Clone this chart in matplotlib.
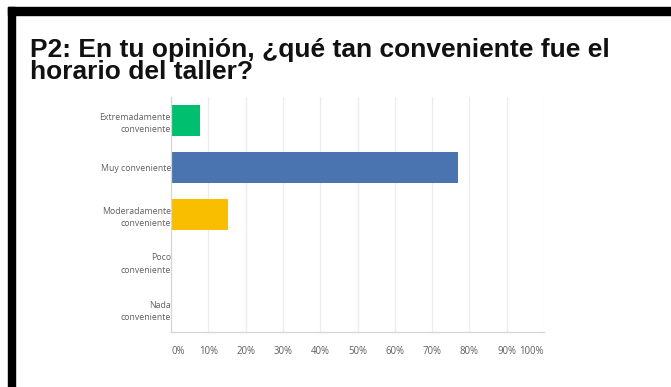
import matplotlib.pyplot as plt
import numpy as np

# survey answers, 13 respondents
categories = ["Extremadamente\nconveniente", "Muy conveniente", "Moderadamente\nconveniente",
              "Poco\nconveniente", "Nada\nconveniente"]
percent = [7.69, 76.92, 15.38, 0.0, 0.0]
colors = ["#00bf6f", "#4a74b0", "#f9be00", "#999999", "#999999"]
ticks = [0, 10, 20, 30, 40, 50, 60, 70, 80, 90, 100]
title = "P2: En tu opinión, ¿qué tan conveniente fue el\nhorario del taller?"

fig = plt.figure(figsize=(6.71, 3.87), dpi=100)

# black slide frame (top and left edges)
fig.patches.append(plt.Rectangle((8 / 671, 1 - 15 / 387), 1, 8 / 387,
                                 transform=fig.transFigure, color="black", zorder=0))
fig.patches.append(plt.Rectangle((8 / 671, 0), 7 / 671, 1 - 7 / 387,
                                 transform=fig.transFigure, color="black", zorder=0))

fig.text(30 / 671, 1 - 38 / 387, title, ha="left", va="top", fontsize=19,
         fontweight="bold", family="Liberation Sans", linespacing=0.9, color="#111111")

ax = fig.add_axes([171 / 671, 1 - 332 / 387, 373 / 671, 235 / 387])
y = np.arange(len(categories))
ax.barh(y, percent, height=0.66, color=colors, zorder=2)
ax.set_ylim(len(categories) - 0.5, -0.5)
ax.set_xlim(0, 100)
ax.set_xticks(ticks)
ax.set_xticklabels([f"{t}%" for t in ticks])
ax.set_yticks(y)
ax.set_yticklabels(categories, ha="right", multialignment="right", linespacing=1.55)
ax.tick_params(axis="both", length=0, labelcolor="#606060")
ax.tick_params(axis="y", pad=0, labelsize=6.3)
ax.tick_params(axis="x", pad=10, labelsize=6.9)
for lab in ax.get_yticklabels() + ax.get_xticklabels():
    lab.set_family("Open Sans")
# end labels sit inside the axis span
xlabels = ax.get_xticklabels()
xlabels[0].set_ha("left")
xlabels[-1].set_ha("right")

ax.grid(axis="x", color="#ececec", linewidth=0.9, zorder=0)
for s in ["top", "right"]:
    ax.spines[s].set_visible(False)
for s in ["left", "bottom"]:
    ax.spines[s].set_color("#d6d6d6")
    ax.spines[s].set_linewidth(0.9)

fig.savefig("out.png", dpi=100)
